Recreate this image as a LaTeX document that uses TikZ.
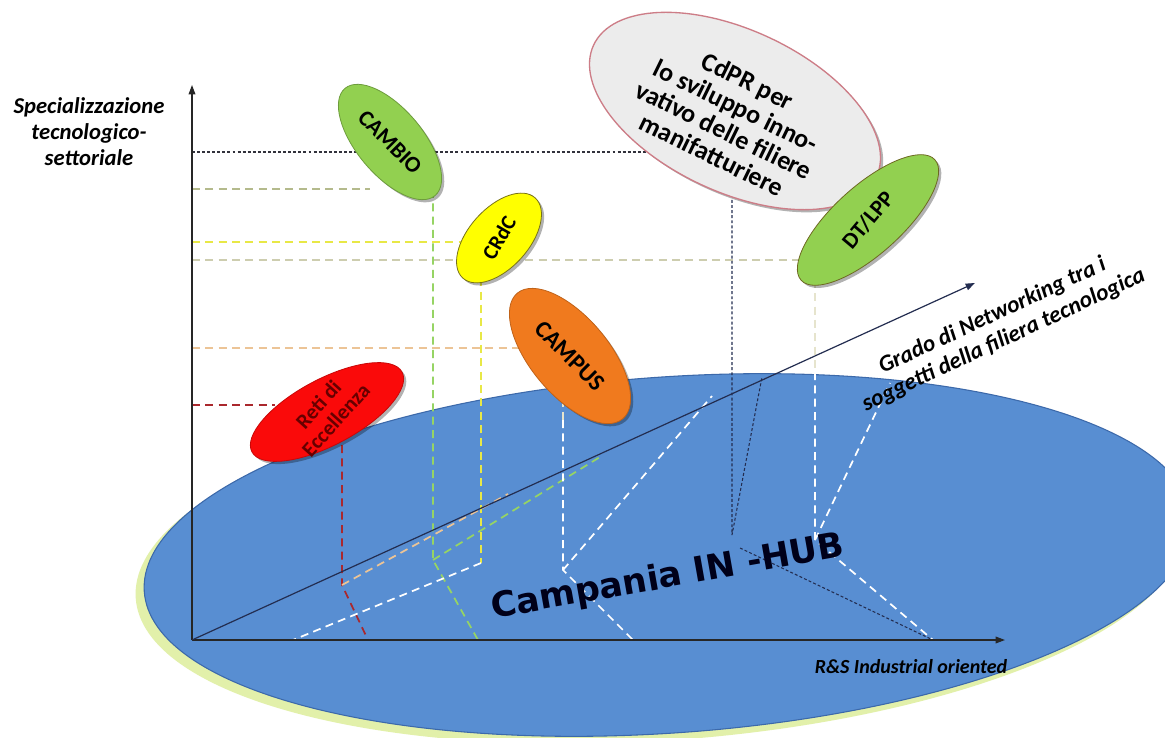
\documentclass[tikz,border=0pt]{standalone}
\usepackage{fontspec}
\setmainfont{Carlito}
\newfontfamily\hubfont{DejaVu Sans}
\usetikzlibrary{shapes.geometric,shadows,arrows.meta}
\definecolor{hubblue}{RGB}{88,142,210}
\definecolor{hubedge}{RGB}{60,105,170}
\definecolor{halo}{RGB}{226,240,170}
\definecolor{cgreen}{RGB}{146,208,80}
\definecolor{cyellow}{RGB}{255,255,0}
\definecolor{corange}{RGB}{240,122,30}
\definecolor{cred}{RGB}{250,10,10}
\definecolor{cgrey}{RGB}{236,236,236}
\definecolor{cpink}{RGB}{205,125,135}
\definecolor{gdark}{RGB}{50,50,60}
\definecolor{golive}{RGB}{180,186,140}
\definecolor{gyellow}{RGB}{232,232,70}
\definecolor{ggreygreen}{RGB}{205,205,175}
\definecolor{gtan}{RGB}{236,196,150}
\definecolor{gred}{RGB}{170,40,45}
\definecolor{glgreen}{RGB}{150,212,100}
\definecolor{gnavy}{RGB}{35,45,80}
\definecolor{gcream}{RGB}{230,228,205}
\tikzset{
  blob/.style={ellipse, inner sep=0pt, line width=0.6pt,
    drop shadow={shadow xshift=2pt, shadow yshift=-2pt, opacity=0.3, fill=black}},
  lbl/.style={font=\bfseries\fontsize{16}{17.5}\selectfont, align=center},
  guide/.style={line width=1.3pt, dash pattern=on 6pt off 4pt},
  fineguide/.style={line width=0.8pt, dash pattern=on 2.2pt off 1.6pt},
  axisline/.style={line width=0.9pt, -{Triangle[length=7pt,width=5pt]}},
  axislabel/.style={font=\bfseries\itshape\fontsize{17}{19.5}\selectfont, align=center},
}
\begin{document}
\begin{tikzpicture}[x=0.75pt,y=-0.75pt]
\useasboundingbox (0,0) rectangle (1165,738);
\fill[white] (0,0) rectangle (1165,738);

% floor ellipse
\fill[halo, rotate around={4:(668,555)}] (660,561) ellipse [x radius=526, y radius=179];
\draw[hubedge, fill=hubblue, line width=0.8pt, rotate around={4:(668,555)}] (668,555) ellipse [x radius=525, y radius=178];

% coordinates
\coordinate (O) at (192,640);
\coordinate (Ytop) at (192,85);
\coordinate (Xend) at (1005,640);
\coordinate (Zend) at (975,283);

% horizontal guides
\draw[fineguide, gdark] (O |- 0,152) -- (660,152);
\draw[guide, golive] (O |- 0,189) -- (370,189);
\draw[guide, gyellow] (O |- 0,242) -- (475,242);
\draw[guide, ggreygreen] (O |- 0,260) -- (815,260);
\draw[guide, gtan] (O |- 0,348) -- (530,348);
\draw[guide, gred] (O |- 0,405) -- (275,405);

% projection lines
\coordinate (rA) at (342,585);
\draw[guide, gred] (342,445) -- (rA) -- (368,640);
\draw[guide, gtan] (rA) -- (508,494);
\coordinate (gA) at (433,560);
\draw[guide, glgreen] (433,190) -- (gA) -- (478,640);
\draw[guide, glgreen] (gA) -- (600,457);
\coordinate (yA) at (481,563);
\draw[guide, gyellow] (481,265) -- (yA);
\draw[guide, white] (yA) -- (293,640);
\coordinate (oA) at (563,570);
\draw[guide, gcream] (563,420) -- (563,380);
\draw[guide, white] (563,420) -- (oA) -- (633,640);
\draw[guide, white] (oA) -- (712,396);
\coordinate (cA) at (732,535);
\draw[fineguide, gnavy] (732,200) -- (cA) -- (762,377);
\draw[fineguide, gnavy] (740,548) -- (933,640);
\coordinate (dA) at (815,540);
\draw[guide, gcream] (815,280) -- (815,372);
\draw[guide, white] (815,372) -- (dA) -- (933,640);
\draw[guide, white] (dA) -- (890,383);

% axes
\draw[axisline, black!85] (O) -- (Ytop);
\draw[axisline, black!85] (O) -- (Xend);
\draw[axisline, gnavy] (O) -- (Zend);

% labels
\node[axislabel] (ylab) at (89,132) {Specializzazione\\tecnologico-\\settoriale};
\node[font=\bfseries\itshape\fontsize{15}{17}\selectfont] (xlab) at (911,667) {R\&S Industrial oriented};
\node[axislabel, font=\bfseries\itshape\fontsize{17.5}{20}\selectfont, rotate=25] (zlab) at (998,328) {Grado di Networking tra i\\soggetti della filiera tecnologica};
\node[font=\hubfont\bfseries\fontsize{26}{28}\selectfont, text=black!90!blue, rotate=10] (hub) at (668,578) {Campania IN -HUB};

% actors
\node[blob, fill=cgrey, draw=cpink, line width=1pt, minimum width=312*0.75pt, minimum height=162*0.75pt, rotate=-25] (cdpr) at (735,111) {};
\node[lbl, font=\bfseries\fontsize{19.5}{20.5}\selectfont, rotate=-26] at (730,118) {CdPR per\\lo sviluppo inno-\\vativo delle filiere\\manifatturiere};

\node[blob, fill=cgreen, draw=cgreen!75!black, minimum width=140*0.75pt, minimum height=66*0.75pt, rotate=-50] (cambio) at (390,142) {};
\node[lbl, font=\bfseries\fontsize{17}{19}\selectfont, rotate=-45] at (cambio) {CAMBIO};

\node[blob, fill=cyellow, draw=olive!80!black, minimum width=108*0.75pt, minimum height=60*0.75pt, rotate=48] (crdc) at (499,238) {};
\node[lbl, rotate=60] at (crdc) {CRdC};

\node[blob, fill=corange, draw=corange!80!black, minimum width=164*0.75pt, minimum height=78*0.75pt, rotate=-50] (campus) at (570,356) {};
\node[lbl, font=\bfseries\fontsize{18}{19}\selectfont, rotate=-45] at (campus) {CAMPUS};

\node[blob, fill=cred, draw=cred!80!black, minimum width=170*0.75pt, minimum height=66*0.75pt, rotate=28] (reti) at (327,412) {};
\node[lbl, text=red!40!black, rotate=48] at (reti) {Reti di\\Eccellenza};

\node[blob, fill=cgreen, draw=olive!70!black, minimum width=180*0.75pt, minimum height=68*0.75pt, rotate=42] (dtlpp) at (868,220) {};
\node[lbl, font=\bfseries\fontsize{17}{19}\selectfont, rotate=50] at (dtlpp) {DT/LPP};
\end{tikzpicture}
\end{document}
